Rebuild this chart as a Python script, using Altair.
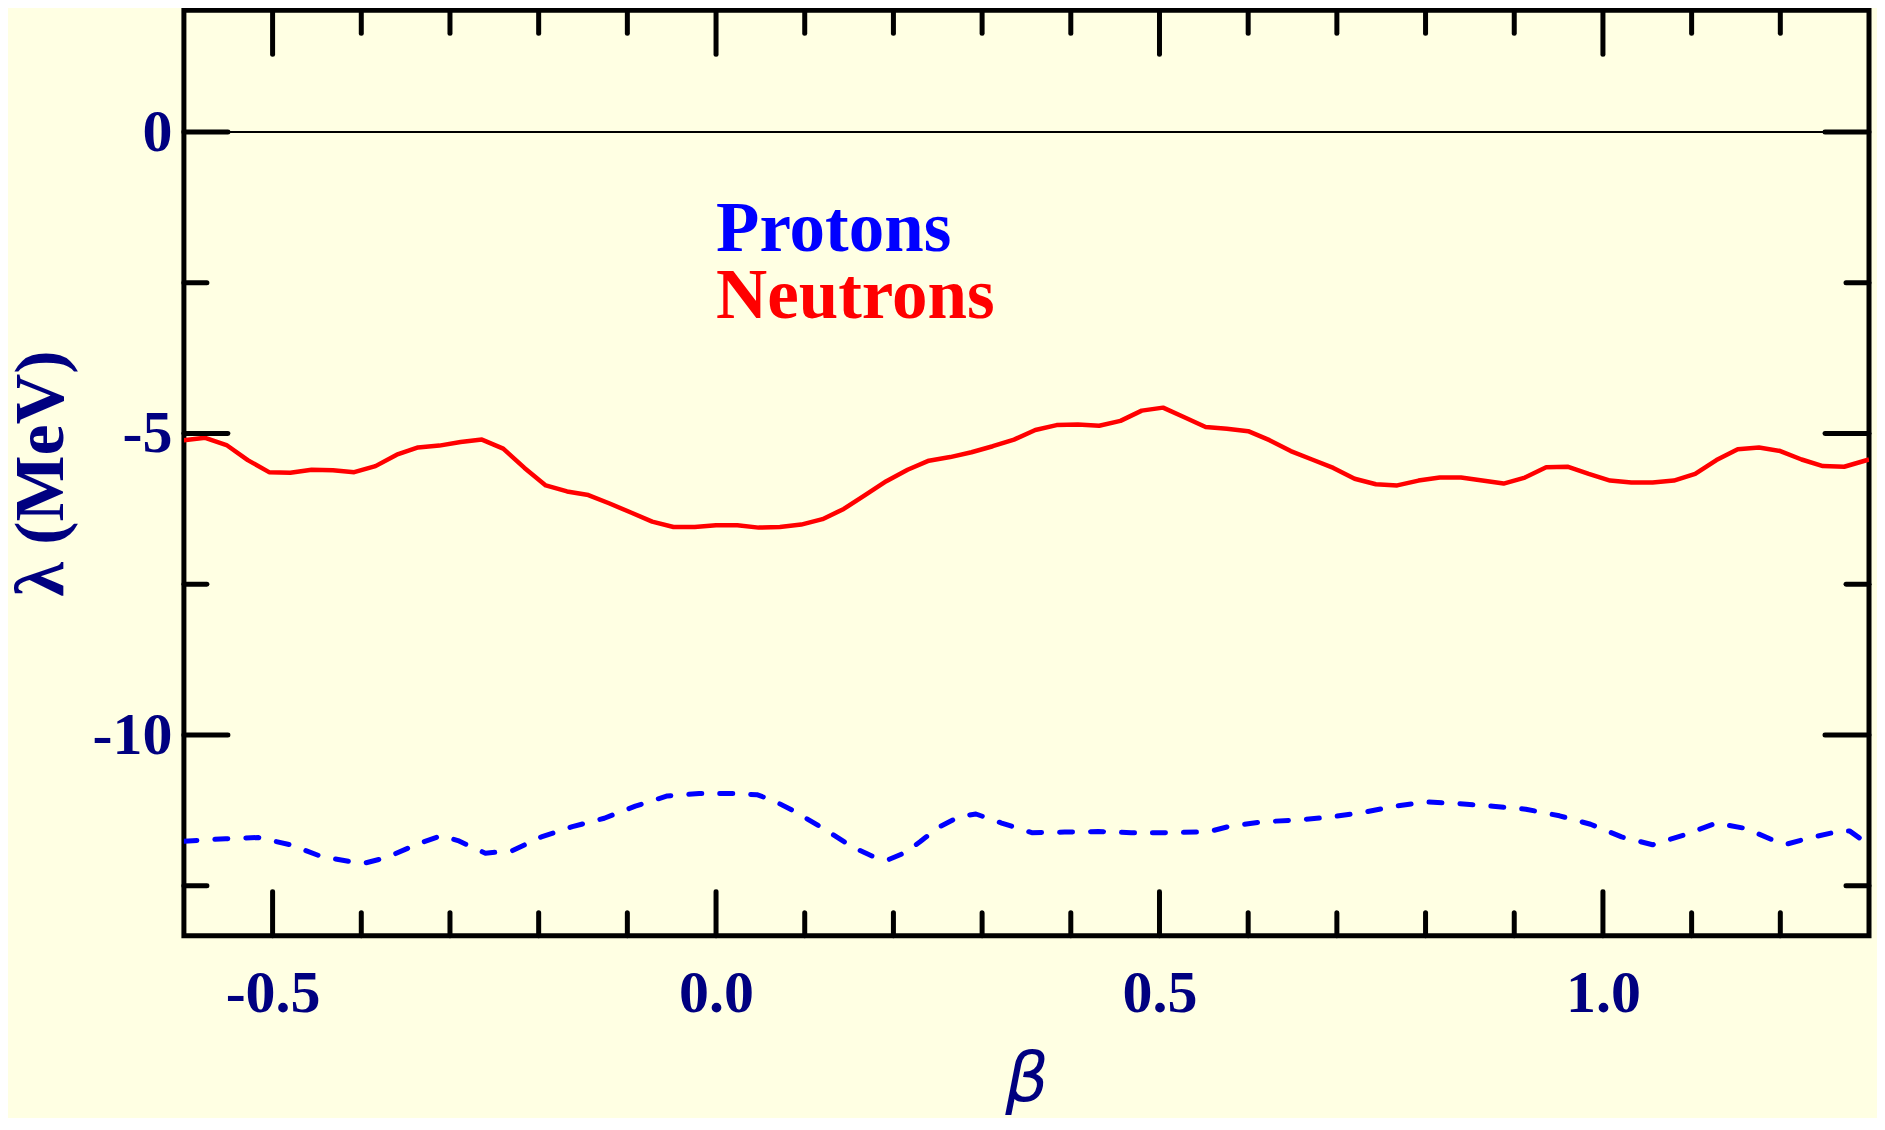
import altair as alt
import pandas as pd

# ---- data ----
beta_neutrons = [
    -0.600, -0.576, -0.552, -0.528, -0.504, -0.480, -0.456, -0.432, -0.408, -0.384,
    -0.360, -0.336, -0.312, -0.288, -0.264, -0.240, -0.216, -0.192, -0.168, -0.144,
    -0.120, -0.096, -0.072, -0.048, -0.024, 0.000, 0.024, 0.048, 0.072, 0.096,
    0.120, 0.144, 0.168, 0.192, 0.216, 0.240, 0.264, 0.288, 0.312, 0.336,
    0.360, 0.384, 0.408, 0.432, 0.456, 0.480, 0.504, 0.528, 0.552, 0.576,
    0.600, 0.624, 0.648, 0.672, 0.696, 0.720, 0.744, 0.768, 0.792, 0.816,
    0.840, 0.864, 0.888, 0.912, 0.936, 0.960, 0.984, 1.008, 1.032, 1.056,
    1.080, 1.104, 1.128, 1.152, 1.176, 1.200, 1.224, 1.248, 1.272, 1.300,
]
lambda_neutrons = [
    -5.11, -5.07, -5.19, -5.44, -5.64, -5.65, -5.60, -5.61, -5.64, -5.54,
    -5.35, -5.23, -5.20, -5.14, -5.10, -5.25, -5.57, -5.86, -5.96, -6.02,
    -6.16, -6.31, -6.46, -6.55, -6.55, -6.52, -6.52, -6.56, -6.55, -6.51,
    -6.42, -6.25, -6.02, -5.79, -5.60, -5.45, -5.39, -5.31, -5.21, -5.10,
    -4.94, -4.86, -4.85, -4.87, -4.79, -4.62, -4.57, -4.73, -4.89, -4.92,
    -4.96, -5.11, -5.29, -5.43, -5.57, -5.75, -5.84, -5.86, -5.78, -5.73,
    -5.73, -5.78, -5.83, -5.73, -5.56, -5.55, -5.67, -5.78, -5.81, -5.81,
    -5.78, -5.67, -5.44, -5.26, -5.23, -5.29, -5.43, -5.54, -5.55, -5.43,
]

beta_protons = [
    -0.600, -0.553, -0.516, -0.480, -0.444, -0.408, -0.395, -0.371, -0.337, -0.310,
    -0.291, -0.260, -0.230, -0.197, -0.162, -0.126, -0.091, -0.055, -0.019, 0.019,
    0.046, 0.065, 0.089, 0.122, 0.154, 0.178, 0.194, 0.213, 0.230, 0.251,
    0.275, 0.293, 0.322, 0.356, 0.393, 0.431, 0.468, 0.505, 0.543, 0.559,
    0.580, 0.616, 0.653, 0.687, 0.728, 0.765, 0.802, 0.839, 0.876, 0.913,
    0.951, 0.986, 1.021, 1.056, 1.091, 1.128, 1.161, 1.196, 1.207, 1.232,
    1.268, 1.278, 1.300,
]
lambda_protons = [
    -11.76, -11.72, -11.70, -11.82, -12.02, -12.11, -12.12, -12.03, -11.81, -11.67,
    -11.75, -11.96, -11.92, -11.69, -11.52, -11.38, -11.18, -11.01, -10.97, -10.97,
    -10.99, -11.09, -11.27, -11.56, -11.86, -12.02, -12.07, -11.95, -11.77, -11.53,
    -11.35, -11.31, -11.46, -11.62, -11.61, -11.60, -11.62, -11.62, -11.61, -11.59,
    -11.51, -11.44, -11.41, -11.37, -11.29, -11.18, -11.11, -11.14, -11.18, -11.23,
    -11.34, -11.48, -11.69, -11.82, -11.66, -11.46, -11.55, -11.77, -11.81, -11.71,
    -11.59, -11.59, -11.82,
]

x_major_ticks = [-0.5, 0.0, 0.5, 1.0]
x_minor_ticks = [-0.4, -0.3, -0.2, -0.1, 0.1, 0.2, 0.3, 0.4, 0.6, 0.7, 0.8, 0.9, 1.1, 1.2]
y_major_ticks = [0, -5, -10]
y_minor_ticks = [-2.5, -7.5, -12.5]
zero_level = [0]

legend_labels = ["Protons", "Neutrons"]
legend_colors = ["#0000FF", "#FF0000"]
legend_beta = [0.0, 0.0]
legend_lambda = [-1.98, -3.09]

# ---- layout / style ----
W, H = 1686, 926
NAVY = "#000080"
SERIF = "Liberation Serif"

xs = alt.Scale(domain=[-0.6, 1.3], nice=False, zero=False)
ys = alt.Scale(domain=[-13.33, 2.02], nice=False, zero=False)

x_axis = alt.Axis(
    values=x_major_ticks, format=".1f", ticks=False, tickSize=0, domain=False, grid=False,
    labelFont=SERIF, labelFontSize=60, labelFontWeight="bold", labelColor=NAVY,
    labelBaseline="alphabetic", labelPadding=76, labelFlush=False,
    title="β", titleFont="DejaVu Sans", titleFontStyle="italic", titleFontWeight="normal",
    titleFontSize=68, titleColor=NAVY, titleX=843, titleY=165,
    titleAlign="center", titleBaseline="alphabetic",
)
y_axis = alt.Axis(
    values=y_major_ticks, format="d", ticks=False, tickSize=0, domain=False, grid=False,
    labelFont=SERIF, labelFontSize=60, labelFontWeight="bold", labelColor=NAVY,
    labelAlign="right", labelBaseline="middle", labelPadding=12, labelFlush=False,
    title="λ (MeV)", titleFont=SERIF, titleFontWeight="bold", titleFontSize=70,
    titleColor=NAVY, titleAngle=270, titleX=-142, titleY=463,
    titleAlign="center", titleBaseline="middle",
)


def X(field="beta:Q"):
    return alt.X(field, scale=xs, axis=x_axis)


def Y(field="lam:Q"):
    return alt.Y(field, scale=ys, axis=y_axis)


neutrons = pd.DataFrame({"beta": beta_neutrons, "lam": lambda_neutrons})
protons = pd.DataFrame({"beta": beta_protons, "lam": lambda_protons})

neutron_line = alt.Chart(neutrons).mark_line(
    color="#FF0000", strokeWidth=4.5, strokeJoin="round", clip=True
).encode(x=X(), y=Y())

proton_line = alt.Chart(protons).mark_line(
    color="#0000FF", strokeWidth=5, strokeDash=[13, 18], strokeCap="round",
    strokeJoin="round", clip=True
).encode(x=X(), y=Y())

zero_line = alt.Chart(pd.DataFrame({"lam": zero_level})).mark_rule(
    color="black", strokeWidth=2
).encode(y=Y())


def x_ticks(vals, length, top):
    df = pd.DataFrame({"beta": vals})
    if top:
        yy, yy2 = alt.value(0), alt.value(length)
    else:
        yy, yy2 = alt.value(H), alt.value(H - length)
    return alt.Chart(df).mark_rule(color="black", strokeWidth=5, strokeCap="round").encode(
        x=X(), y=yy, y2=yy2
    )


def y_ticks(vals, length, right):
    df = pd.DataFrame({"lam": vals})
    if right:
        xx, xx2 = alt.value(W), alt.value(W - length)
    else:
        xx, xx2 = alt.value(0), alt.value(length)
    return alt.Chart(df).mark_rule(color="black", strokeWidth=5, strokeCap="round").encode(
        y=Y(), x=xx, x2=xx2
    )


legend_df = pd.DataFrame({
    "label": legend_labels, "color": legend_colors,
    "beta": legend_beta, "lam": legend_lambda,
})
legend_text = alt.Chart(legend_df).mark_text(
    font=SERIF, fontSize=71, fontWeight="bold", align="left", baseline="alphabetic"
).encode(
    x=X(), y=Y(),
    text="label:N",
    color=alt.Color("color:N", scale=None),
)

chart = alt.layer(
    neutron_line,
    zero_line,
    proton_line,
    x_ticks(x_major_ticks, 44, False), x_ticks(x_minor_ticks, 23, False),
    x_ticks(x_major_ticks, 44, True), x_ticks(x_minor_ticks, 23, True),
    y_ticks(y_major_ticks, 44, False), y_ticks(y_minor_ticks, 23, False),
    y_ticks(y_major_ticks, 44, True), y_ticks(y_minor_ticks, 23, True),
    legend_text,
).properties(
    width=W, height=H,
    autosize=alt.AutoSizeParams(type="none"),
    padding={"left": 176, "top": 2, "right": 8, "bottom": 182},
    background="#FFFFE3",
).configure(
    locale={"number": {"decimal": ".", "thousands": ",", "grouping": [3],
                       "currency": ["$", ""], "minus": "-"}},
).configure_view(stroke="black", strokeWidth=5)

chart.save("out.html", embed_options={"renderer": "svg", "actions": False})
